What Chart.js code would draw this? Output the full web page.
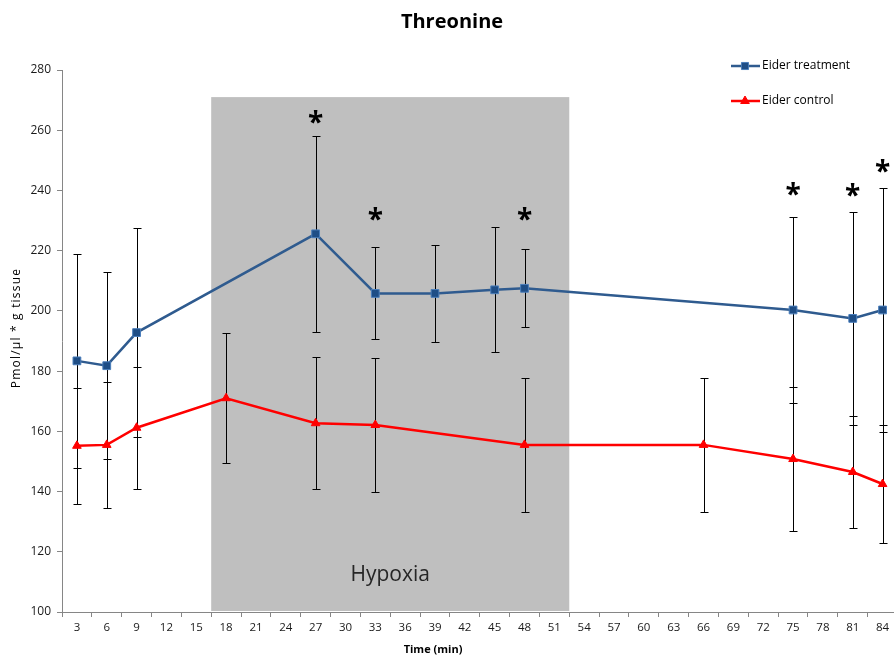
<!DOCTYPE html>
<html lang="en">
<head>
  <meta charset="UTF-8">
  <title>Threonine</title>
  <script src="https://cdn.jsdelivr.net/npm/chart.js@4.4.1/dist/chart.umd.min.js"></script>
  <style>
    html, body {
      margin: 0;
      padding: 0;
      background: #fff;
      overflow: hidden;
    }

    .wrap {
      position: relative;
      width: 904px;
      height: 657px;
    }
  </style>
</head>
<body>
  <div class="wrap">
    <canvas id="chart" width="904" height="657"></canvas>
  </div>

  <script>
    // x categories (min)
    const timeLabels = ['3', '6', '9', '12', '15', '18', '21', '24', '27', '30', '33', '36', '39', '42',
      '45', '48', '51', '54', '57', '60', '63', '66', '69', '72', '75', '78', '81', '84'];

    // Eider treatment
    const treatTimes = ['3', '6', '9', '27', '33', '39', '45', '48', '75', '81', '84'];
    const treatMean = [183.4, 181.8, 192.8, 225.6, 205.8, 205.8, 207.0, 207.5, 200.3, 197.5, 200.3];
    const treatErr = [35.5, 31.0, 34.7, 32.5, 15.3, 16.0, 20.7, 13.0, 31.0, 35.5, 40.5];

    // Eider control
    const controlTimes = ['3', '6', '9', '18', '27', '33', '48', '66', '75', '81', '84'];
    const controlMean = [155.2, 155.5, 161.2, 171.0, 162.7, 162.1, 155.5, 155.5, 150.8, 146.5, 142.5];
    const controlErr = [19.3, 21.0, 20.3, 21.5, 22.0, 22.2, 22.3, 22.3, 23.8, 18.5, 19.6];

    // significance marks
    const sigTimes = ['27', '33', '48', '75', '81', '84'];
    const sigLevel = [264.5, 232.2, 232.2, 240.5, 240.2, 248.1];

    // hypoxia period (between these categories) and its top value
    const hypoxiaFrom = ['15', '18'];
    const hypoxiaTo = ['51', '54'];
    const hypoxiaTop = 271;

    const FONT = '"Open Sans", sans-serif';
    const blueLine = '#2f5b8f';
    const blueFill = '#1f4e86';
    const blueEdge = '#4a7ebb';
    const red = '#ff0000';

    function idx(t) {
      return timeLabels.indexOf(t);
    }

    const overlay = {
      id: 'overlay',
      beforeDatasetsDraw(chart) {
        const { ctx, scales: { x, y } } = chart;
        ctx.save();

        // grey hypoxia box
        const x0 = x.getPixelForValue((idx(hypoxiaFrom[0]) + idx(hypoxiaFrom[1])) / 2);
        const x1 = x.getPixelForValue((idx(hypoxiaTo[0]) + idx(hypoxiaTo[1])) / 2);
        const yTop = y.getPixelForValue(hypoxiaTop);
        const yBot = y.getPixelForValue(y.min) - 1;
        ctx.fillStyle = '#bfbfbf';
        ctx.fillRect(x0, yTop, x1 - x0, yBot - yTop);

        ctx.fillStyle = '#262626';
        ctx.font = '21px ' + FONT;
        ctx.textAlign = 'center';
        ctx.textBaseline = 'middle';
        ctx.fillText('Hypoxia', (x0 + x1) / 2, 575);

        // error bars
        ctx.strokeStyle = '#000';
        ctx.lineWidth = 1;
        const bars = (times, mean, err) => {
          times.forEach((t, i) => {
            const px = Math.round(x.getPixelForValue(idx(t))) + 0.5;
            const top = Math.round(y.getPixelForValue(mean[i] + err[i])) + 0.5;
            const bot = Math.round(y.getPixelForValue(mean[i] - err[i])) + 0.5;
            ctx.beginPath();
            ctx.moveTo(px, top);
            ctx.lineTo(px, bot);
            ctx.moveTo(px - 4, top);
            ctx.lineTo(px + 4, top);
            ctx.moveTo(px - 4, bot);
            ctx.lineTo(px + 4, bot);
            ctx.stroke();
          });
        };
        bars(treatTimes, treatMean, treatErr);
        bars(controlTimes, controlMean, controlErr);
        ctx.restore();
      },
      afterDraw(chart) {
        const { ctx, scales: { x, y } } = chart;
        ctx.save();

        // asterisks
        ctx.fillStyle = '#000';
        ctx.font = 'bold 28px ' + FONT;
        ctx.textAlign = 'center';
        ctx.textBaseline = 'alphabetic';
        sigTimes.forEach((t, i) => {
          ctx.fillText('*', x.getPixelForValue(idx(t)), y.getPixelForValue(sigLevel[i]) + 15);
        });

        // title
        ctx.fillStyle = '#000';
        ctx.font = 'bold 20px ' + FONT;
        ctx.textBaseline = 'middle';
        ctx.fillText('Threonine', 452, 22);

        // axis titles
        ctx.font = 'bold 11px ' + FONT;
        ctx.fillText('Time (min)', 433, 650);
        ctx.save();
        ctx.translate(17, 328);
        ctx.rotate(-Math.PI / 2);
        ctx.font = '12px ' + FONT;
        ctx.letterSpacing = '1.2px';
        ctx.fillText('Pmol/\u00b5l * g tissue', 0, 0);
        ctx.restore();

        // legend
        const items = [
          { text: 'Eider treatment', y: 66, line: blueLine, style: 'rect', r: 5, fill: blueFill, edge: blueEdge },
          { text: 'Eider control', y: 101, line: red, style: 'triangle', r: 5, fill: red, edge: red }
        ];
        items.forEach(it => {
          ctx.strokeStyle = it.line;
          ctx.lineWidth = 2.5;
          ctx.beginPath();
          ctx.moveTo(731, it.y);
          ctx.lineTo(760, it.y);
          ctx.stroke();
          ctx.fillStyle = it.fill;
          ctx.strokeStyle = it.edge;
          ctx.lineWidth = 1;
          Chart.helpers.drawPoint(ctx, { pointStyle: it.style, radius: it.r, rotation: 0, borderWidth: 1 }, 745, it.y);
          ctx.fillStyle = '#000';
          ctx.font = '12px ' + FONT;
          ctx.textAlign = 'left';
          ctx.fillText(it.text, 762, it.y);
        });
        ctx.restore();
      }
    };

    new Chart(document.getElementById('chart'), {
      type: 'line',
      data: {
        labels: timeLabels,
        datasets: [
          {
            label: 'Eider treatment',
            data: treatTimes.map((t, i) => ({ x: t, y: treatMean[i] })),
            borderColor: blueLine,
            borderWidth: 2.5,
            pointStyle: 'rect',
            pointRadius: 5.5,
            pointBackgroundColor: blueFill,
            pointBorderColor: blueEdge,
            pointBorderWidth: 1,
            tension: 0
          },
          {
            label: 'Eider control',
            data: controlTimes.map((t, i) => ({ x: t, y: controlMean[i] })),
            borderColor: red,
            borderWidth: 2.5,
            pointStyle: 'triangle',
            pointRadius: 5,
            pointBackgroundColor: red,
            pointBorderColor: red,
            pointBorderWidth: 1,
            tension: 0
          }
        ]
      },
      options: {
        responsive: false,
        animation: false,
        layout: {
          padding: { top: 70, right: 1, left: 0, bottom: 0 }
        },
        plugins: {
          legend: { display: false },
          tooltip: { enabled: false }
        },
        scales: {
          x: {
            type: 'category',
            offset: true,
            grid: {
              offset: true,
              drawOnChartArea: false,
              tickLength: 5,
              color: '#868686'
            },
            border: { color: '#868686' },
            ticks: {
              autoSkip: false,
              maxRotation: 0,
              padding: 4,
              color: '#1a1a1a',
              font: { family: FONT, size: 11.5 }
            },
            afterFit(s) {
              s.height = 45;
            }
          },
          y: {
            min: 100,
            max: 280,
            grid: {
              drawOnChartArea: false,
              tickLength: 5,
              color: '#868686'
            },
            border: { color: '#868686' },
            ticks: {
              stepSize: 20,
              padding: 6,
              color: '#1a1a1a',
              font: { family: FONT, size: 12 }
            },
            afterFit(s) {
              s.width = 62;
            }
          }
        }
      },
      plugins: [overlay]
    });
  </script>
</body>
</html>
